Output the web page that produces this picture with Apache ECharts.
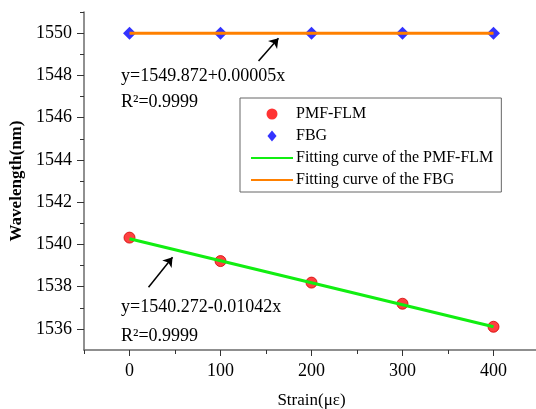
<!DOCTYPE html>
<html>
<head>
<meta charset="utf-8">
<script src="https://cdn.jsdelivr.net/npm/echarts@6/dist/echarts.min.js"></script>
<style>
html, body { margin: 0; padding: 0; background: #fff; }
#main { width: 536px; height: 409px; }
</style>
</head>
<body>
<div id="main"></div>
<script>
// 数据
var strain = [0, 100, 200, 300, 400];
var pmfFlm = [1540.32, 1539.21, 1538.19, 1537.19, 1536.10];
var fbg = [1550.0, 1550.0, 1550.0, 1550.0, 1550.0];
var fitPmfX = [0, 400];
var fitPmfY = [1540.27, 1536.10];
var fitFbgX = [0, 400];
var fitFbgY = [1550.0, 1550.0];

// 刻度
var yMajor = [1536, 1538, 1540, 1542, 1544, 1546, 1548, 1550];
var yMinor = [1537, 1539, 1541, 1543, 1545, 1547, 1549, 1551];
var xMajor = [0, 100, 200, 300, 400];
var xMinor = [-50, 50, 150, 250, 350, 450];

// 箭头（数据坐标）
var arrowFbg = [[141.8, 1548.68], [163.7, 1549.76]];
var arrowPmf = [[20.9, 1537.97], [47.3, 1539.39]];

function pairs(xs, ys) {
    return xs.map(function (x, i) { return [x, ys[i]]; });
}

var font = 'Liberation Serif';
var axisColor = '#6b6b6b';

var chart = echarts.init(document.getElementById('main'));

var option = {
    animation: false,
    textStyle: { fontFamily: font, color: '#000' },
    grid: { left: 84, top: 12, right: -3, bottom: 59, containLabel: false, outerBoundsMode: 'none' },
    legend: {
        orient: 'vertical',
        left: 240,
        top: 98,
        width: 286,
        padding: [8, 8, 4, 10],
        itemGap: 6,
        itemWidth: 42,
        itemHeight: 11,
        symbolKeepAspect: true,
        borderColor: '#666',
        borderWidth: 1,
        backgroundColor: '#fff',
        textStyle: { fontFamily: font, fontSize: 16, color: '#000', padding: [0, 0, 0, -2] },
        data: [
            { name: 'PMF-FLM', icon: 'circle', itemStyle: { color: '#ff0000', borderWidth: 0 } },
            { name: 'FBG', icon: 'path://M5,0 L10,6 L5,12 L0,6 Z', itemStyle: { color: '#0000ff', borderWidth: 0 } },
            { name: 'Fitting curve of the PMF-FLM', itemStyle: { opacity: 0 } },
            { name: 'Fitting curve of the FBG', itemStyle: { opacity: 0 } }
        ]
    },
    xAxis: [{
        type: 'value',
        min: -50,
        max: 450,
        name: 'Strain(με)',
        nameLocation: 'middle',
        nameGap: 42,
        nameTextStyle: { fontFamily: font, fontSize: 17, color: '#000' },
        splitLine: { show: false },
        axisLine: { show: true, onZero: false, lineStyle: { color: axisColor, width: 1.5 } },
        axisTick: { show: true, customValues: xMajor, length: 6, lineStyle: { color: '#333', width: 1 } },
        axisLabel: { customValues: xMajor, fontFamily: font, fontSize: 18, color: '#000', margin: 12 }
    }, {
        type: 'value',
        min: -50,
        max: 450,
        position: 'bottom',
        splitLine: { show: false },
        axisLine: { show: false, onZero: false },
        axisTick: { show: true, customValues: xMinor, length: 4, lineStyle: { color: '#333', width: 1 } },
        axisLabel: { show: false }
    }],
    yAxis: [{
        type: 'value',
        min: 1535,
        max: 1551,
        name: 'Wavelength(nm)',
        nameLocation: 'middle',
        nameGap: 57,
        nameTextStyle: { fontFamily: font, fontSize: 17, fontWeight: 'bold', color: '#000' },
        splitLine: { show: false },
        axisLine: { show: true, onZero: false, lineStyle: { color: axisColor, width: 1.5 } },
        axisTick: { show: true, customValues: yMajor, length: 7, lineStyle: { color: '#333', width: 1 } },
        axisLabel: {
            customValues: yMajor, fontFamily: font, fontSize: 18, color: '#000', margin: 12,
            formatter: function (v) { return String(v); }
        }
    }, {
        type: 'value',
        min: 1535,
        max: 1551,
        position: 'left',
        splitLine: { show: false },
        axisLine: { show: false, onZero: false },
        axisTick: { show: true, customValues: yMinor, length: 4, lineStyle: { color: '#333', width: 1 } },
        axisLabel: { show: false }
    }],
    graphic: [
        { type: 'text', left: 121, top: 67, style: { text: 'y=1549.872+0.00005x', font: '18px "Liberation Serif"', fill: '#000' } },
        { type: 'text', left: 121, top: 93, style: { text: 'R²=0.9999', font: '18px "Liberation Serif"', fill: '#000' } },
        { type: 'text', left: 121, top: 298, style: { text: 'y=1540.272-0.01042x', font: '18px "Liberation Serif"', fill: '#000' } },
        { type: 'text', left: 121, top: 327, style: { text: 'R²=0.9999', font: '18px "Liberation Serif"', fill: '#000' } }
    ],
    series: [{
        name: 'PMF-FLM',
        type: 'scatter',
        z: 2,
        symbol: 'circle',
        symbolSize: 11,
        itemStyle: { color: '#ff1010', borderColor: '#d00000', borderWidth: 1 },
        data: pairs(strain, pmfFlm)
    }, {
        name: 'FBG',
        type: 'scatter',
        z: 2,
        symbol: 'diamond',
        symbolSize: [13, 13],
        itemStyle: { color: '#0000ff' },
        data: pairs(strain, fbg)
    }, {
        name: 'Fitting curve of the PMF-FLM',
        type: 'line',
        z: 3,
        symbol: 'none',
        lineStyle: { color: '#11ee11', width: 3 },
        itemStyle: { color: '#11ee11' },
        data: pairs(fitPmfX, fitPmfY),
        markLine: {
            silent: true,
            symbol: ['none', 'arrow'],
            symbolSize: 9,
            label: { show: false },
            lineStyle: { color: '#000', width: 1.5, type: 'solid' },
            data: [[{ coord: arrowPmf[0] }, { coord: arrowPmf[1] }]]
        }
    }, {
        name: 'Fitting curve of the FBG',
        type: 'line',
        z: 3,
        symbol: 'none',
        lineStyle: { color: '#ff8000', width: 3 },
        itemStyle: { color: '#ff8000' },
        data: pairs(fitFbgX, fitFbgY),
        markLine: {
            silent: true,
            symbol: ['none', 'arrow'],
            symbolSize: 9,
            label: { show: false },
            lineStyle: { color: '#000', width: 1.5, type: 'solid' },
            data: [[{ coord: arrowFbg[0] }, { coord: arrowFbg[1] }]]
        }
    }]
};

chart.setOption(option);
</script>
</body>
</html>
